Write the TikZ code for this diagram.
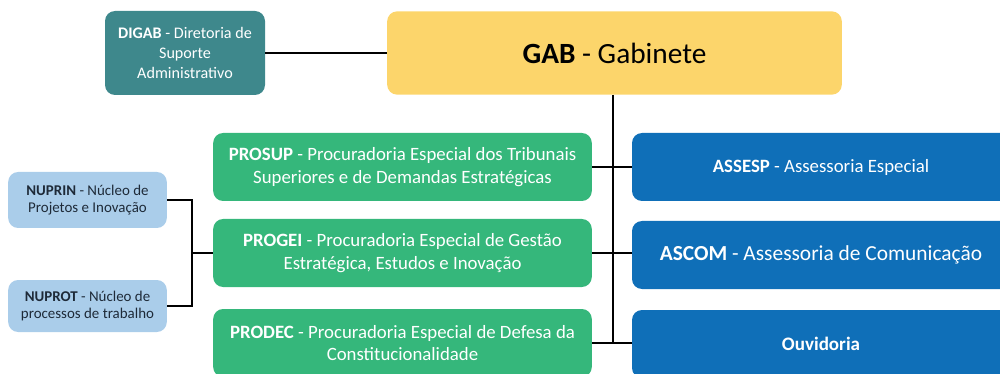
\documentclass[tikz,border=0pt]{standalone}
\usepackage{fontspec}
\setmainfont{Carlito}
\definecolor{teal1}{HTML}{3E888C}
\definecolor{gold1}{HTML}{FCD56B}
\definecolor{green1}{HTML}{35B77B}
\definecolor{blue1}{HTML}{0F6FB8}
\definecolor{lblue}{HTML}{AACDEA}
\definecolor{dtext}{HTML}{1E2A38}
\begin{document}
\begin{tikzpicture}[x=0.75pt,y=-0.75pt,
  box/.style={draw=none,rounded corners=7.5pt,align=center,inner sep=0pt},
  conn/.style={draw=black,line width=1.9pt}]
\useasboundingbox (0,0) rectangle (1000,374);
\clip (0,0) rectangle (1000,374);
% nodes
\node[box,fill=teal1,text=white,minimum width=120pt,minimum height=63pt,
  font=\fontsize{12.1}{15}\selectfont] (digab) at (185,53)
  {\textbf{DIGAB} - Diretoria de\\Suporte\\Administrativo};
\node[box,fill=gold1,text=black,minimum width=341pt,minimum height=62.5pt,
  font=\fontsize{22}{26}\selectfont] (gab) at (614.5,53)
  {\textbf{GAB} - Gabinete};
\node[box,fill=green1,text=white,minimum width=284pt,minimum height=51pt,
  font=\fontsize{14.1}{16.8}\selectfont] (prosup) at (402.5,167)
  {\textbf{PROSUP} - Procuradoria Especial dos Tribunais\\Superiores e de Demandas Estratégicas};
\node[box,fill=green1,text=white,minimum width=284pt,minimum height=51pt,
  font=\fontsize{14.1}{16.8}\selectfont] (progei) at (402.5,253)
  {\textbf{PROGEI} - Procuradoria Especial de Gestão\\Estratégica, Estudos e Inovação};
\node[box,fill=green1,text=white,minimum width=284pt,minimum height=51pt,
  font=\fontsize{14.1}{16.8}\selectfont] (prodec) at (402.5,343)
  {\textbf{PRODEC} - Procuradoria Especial de Defesa da\\Constitucionalidade};
\node[box,fill=blue1,text=white,minimum width=283.5pt,minimum height=51pt,
  font=\fontsize{14.1}{17}\selectfont] (assesp) at (821,167)
  {\textbf{ASSESP} - Assessoria Especial};
\node[box,fill=blue1,text=white,minimum width=283.5pt,minimum height=51pt,
  font=\fontsize{16.05}{19}\selectfont] (ascom) at (821,255)
  {\textbf{ASCOM} - Assessoria de Comunicação};
\node[box,fill=blue1,text=white,minimum width=283.5pt,minimum height=51pt,
  font=\fontsize{14.3}{17}\selectfont] (ouv) at (821,344)
  {\textbf{Ouvidoria}};
\node[box,fill=lblue,text=dtext,minimum width=119pt,minimum height=42pt,
  font=\fontsize{11.2}{13}\selectfont] (nuprin) at (87.5,200)
  {\textbf{NUPRIN} - Núcleo de\\Projetos e Inovação};
\node[box,fill=lblue,text=dtext,minimum width=119pt,minimum height=39pt,
  font=\fontsize{11.2}{13}\selectfont] (nuprot) at (87.5,306)
  {\textbf{NUPROT} - Núcleo de\\processos de trabalho};
% connectors
\coordinate (bx) at (192,253);
\coordinate (vb) at (613,343);
\draw[conn] (digab.east) -- (gab.west);
\draw[conn] (gab.south -| vb) -- (vb);
\draw[conn] (prosup.east) -- (assesp.west);
\draw[conn] (progei.east) -- (progei.east -| ascom.west);
\draw[conn] (prodec.east) -- (prodec.east -| ouv.west);
\draw[conn] (nuprin.east) -| (bx) |- (nuprot.east);
\draw[conn] (bx) -- (progei.west);
\end{tikzpicture}
\end{document}
